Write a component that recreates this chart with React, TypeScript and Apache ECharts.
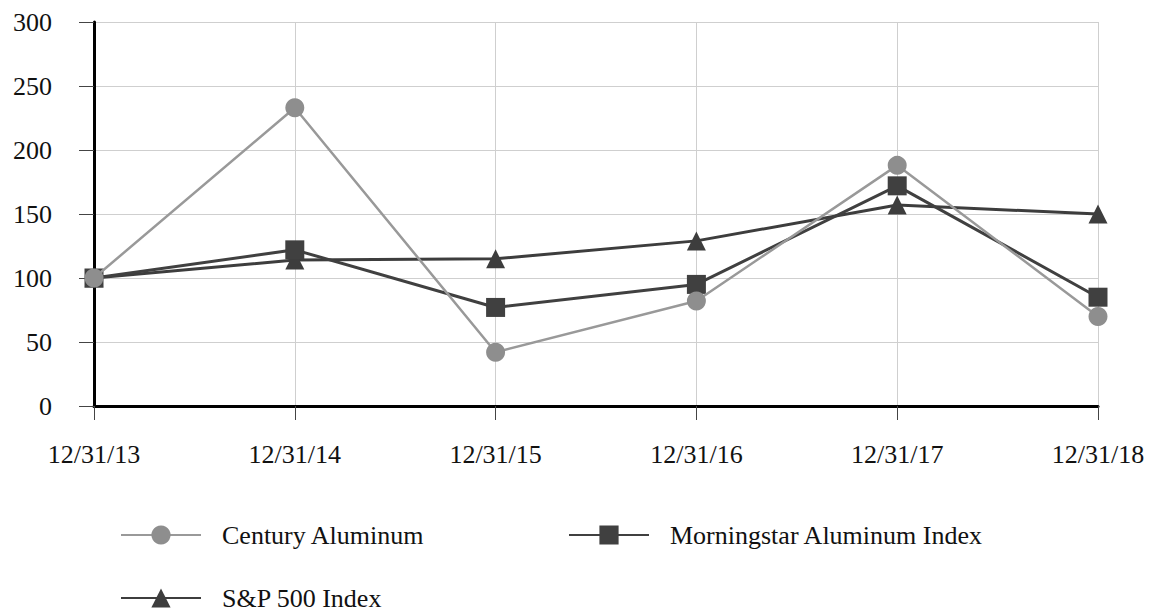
import React, { useEffect, useRef } from "react";
import * as echarts from "echarts";

const categories = ["12/31/13", "12/31/14", "12/31/15", "12/31/16", "12/31/17", "12/31/18"];
const centuryAluminum = [100, 233, 42, 82, 188, 70];
const morningstarAluminum = [100, 122, 77, 95, 172, 85];
const sp500 = [100, 114, 115, 129, 157, 150];
const yTicks = { min: 0, max: 300, interval: 50 };

const FONT = "Liberation Serif";

export default function App() {
  const ref = useRef<HTMLDivElement>(null);
  useEffect(() => {
    document.body.style.margin = "0";
    if (!ref.current) return;
    const chart = echarts.init(ref.current, undefined, { renderer: "svg" });
    const legendCommon = {
      orient: "horizontal",
      itemWidth: 80,
      itemHeight: 24,
      textStyle: { fontFamily: FONT, fontSize: 26, color: "#111", padding: [0, 0, 0, 16] },
      selectedMode: false,
    };
    chart.setOption({
      animation: false,
      backgroundColor: "#fff",
      textStyle: { fontFamily: FONT },
      grid: { left: 94, right: 52, top: 22, bottom: 209 },
      legend: [
        { ...legendCommon, data: ["Century Aluminum"], left: 115, top: 517 },
        { ...legendCommon, data: ["Morningstar Aluminum Index"], left: 563, top: 517 },
        { ...legendCommon, data: ["S&P 500 Index"], left: 115, top: 580 },
      ],
      xAxis: {
        type: "category",
        data: categories,
        boundaryGap: false,
        axisLine: { lineStyle: { color: "#000", width: 3 } },
        axisTick: { show: true, length: 14, lineStyle: { color: "#444", width: 1 } },
        axisLabel: { fontFamily: FONT, fontSize: 26, color: "#111", margin: 35 },
        splitLine: { show: true, lineStyle: { color: "#cfcfcf", width: 1 } },
      },
      yAxis: {
        type: "value",
        min: yTicks.min,
        max: yTicks.max,
        interval: yTicks.interval,
        axisLine: { show: true, lineStyle: { color: "#000", width: 3 } },
        axisTick: { show: true, length: 15, lineStyle: { color: "#444", width: 1 } },
        axisLabel: { fontFamily: FONT, fontSize: 26, color: "#111", margin: 42 },
        splitLine: { show: true, lineStyle: { color: "#cfcfcf", width: 1 } },
      },
      series: [
        {
          name: "S&P 500 Index",
          type: "line",
          data: sp500,
          symbol: "triangle",
          symbolSize: 19,
          z: 2,
          lineStyle: { color: "#3d3d3d", width: 3 },
          itemStyle: { color: "#3d3d3d" },
        },
        {
          name: "Morningstar Aluminum Index",
          type: "line",
          data: morningstarAluminum,
          symbol: "rect",
          symbolSize: 19,
          z: 3,
          lineStyle: { color: "#404040", width: 3 },
          itemStyle: { color: "#404040" },
        },
        {
          name: "Century Aluminum",
          type: "line",
          data: centuryAluminum,
          symbol: "circle",
          symbolSize: 19,
          z: 4,
          lineStyle: { color: "#999999", width: 2.5 },
          itemStyle: { color: "#8e8e8e" },
        },
      ],
    });
    return () => chart.dispose();
  }, []);
  return <div ref={ref} style={{ width: 1150, height: 615 }} />;
}
